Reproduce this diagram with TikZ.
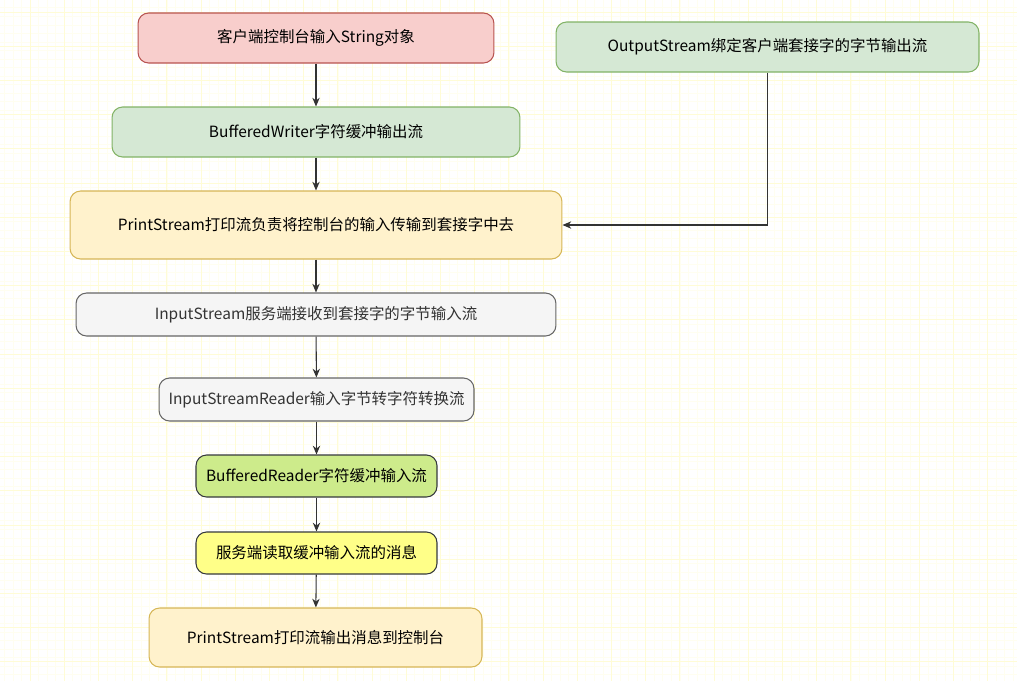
\documentclass[tikz,border=0pt]{standalone}
\usepackage{fontspec}
\setmainfont{Noto Sans CJK SC}
\usepackage{tikz}
\usetikzlibrary{arrows.meta}

\definecolor{pinkfill}{HTML}{F8CECC}
\definecolor{pinkline}{HTML}{B85450}
\definecolor{greenfill}{HTML}{D5E8D4}
\definecolor{greenline}{HTML}{82B366}
\definecolor{yellowfill}{HTML}{FFF2CC}
\definecolor{yellowline}{HTML}{D6B656}
\definecolor{greyfill}{HTML}{F5F5F5}
\definecolor{greyline}{HTML}{666666}
\definecolor{limefill}{HTML}{CDEB8B}
\definecolor{lemonfill}{HTML}{FFFF88}
\definecolor{darkline}{HTML}{36393D}
\definecolor{gridminor}{HTML}{FFFEF0}
\definecolor{gridmajor}{HTML}{FFFCD6}

\begin{document}
\begin{tikzpicture}[x=0.02cm,y=-0.02cm,
	box/.style={draw,rounded corners=6pt,line width=0.6pt,inner sep=0pt,
		font=\fontsize{8.8}{10}\selectfont,text=black},
	pinkbox/.style={box,fill=pinkfill,draw=pinkline},
	greenbox/.style={box,fill=greenfill,draw=greenline},
	yellowbox/.style={box,fill=yellowfill,draw=yellowline},
	greybox/.style={box,fill=greyfill,draw=greyline,text=black!80},
	limebox/.style={box,fill=limefill,draw=darkline},
	lemonbox/.style={box,fill=lemonfill,draw=darkline},
	flow/.style={-{Stealth[length=5pt,width=4.2pt]},line width=0.6pt,draw=black!80}]
	
	\useasboundingbox (0,0) rectangle (1017,681);
	
	% background grid
	\begin{scope}
		\clip (0,0) rectangle (1017,681);
		\fill[white] (0,0) rectangle (1017,681);
		\foreach \i in {0,...,120}{
			\draw[gridminor,line width=0.3pt] ({-4.2+8.55*\i},0) -- ({-4.2+8.55*\i},681);
			\draw[gridminor,line width=0.3pt] (0,{-9.4+8.55*\i}) -- (1017,{-9.4+8.55*\i});
		}
		\foreach \i in {0,...,30}{
			\draw[gridmajor,line width=0.5pt] ({-4.2+34.2*\i},0) -- ({-4.2+34.2*\i},681);
			\draw[gridmajor,line width=0.5pt] (0,{-22.2+34.2*\i}) -- (1017,{-22.2+34.2*\i});
		}
	\end{scope}
	
	% boxes
	\node[pinkbox,minimum width=7.12cm,minimum height=1.0cm] (input) at (316,38) {客户端控制台输入String对象};
	\node[greenbox,minimum width=8.46cm,minimum height=1.0cm] (out) at (767.5,47) {OutputStream绑定客户端套接字的字节输出流};
	\node[greenbox,minimum width=8.16cm,minimum height=1.0cm] (bw) at (316,132) {BufferedWriter字符缓冲输出流};
	\node[yellowbox,minimum width=9.84cm,minimum height=1.36cm] (ps) at (316,225) {PrintStream打印流负责将控制台的输入传输到套接字中去};
	\node[greybox,minimum width=9.6cm,minimum height=0.86cm] (is) at (316,314.5) {InputStream服务端接收到套接字的字节输入流};
	\node[greybox,minimum width=6.3cm,minimum height=0.86cm] (isr) at (316.5,399.5) {InputStreamReader输入字节转字符转换流};
	\node[limebox,minimum width=4.82cm,minimum height=0.84cm] (br) at (316.5,476) {BufferedReader字符缓冲输入流};
	\node[lemonbox,minimum width=4.82cm,minimum height=0.84cm] (read) at (316.5,553) {服务端读取缓冲输入流的消息};
	\node[yellowbox,minimum width=6.66cm,minimum height=1.18cm] (print) at (315.5,637.5) {PrintStream打印流输出消息到控制台};
	
	% arrows
	\draw[flow] (input) -- (bw);
	\draw[flow] (bw) -- (ps);
	\draw[flow] (ps) -- (is);
	\draw[flow] (is) -- (isr);
	\draw[flow] (isr) -- (br);
	\draw[flow] (br) -- (read);
	\draw[flow] (read) -- (print);
	\draw[flow] (out.south) |- (ps.east);
	
\end{tikzpicture}
\end{document}
